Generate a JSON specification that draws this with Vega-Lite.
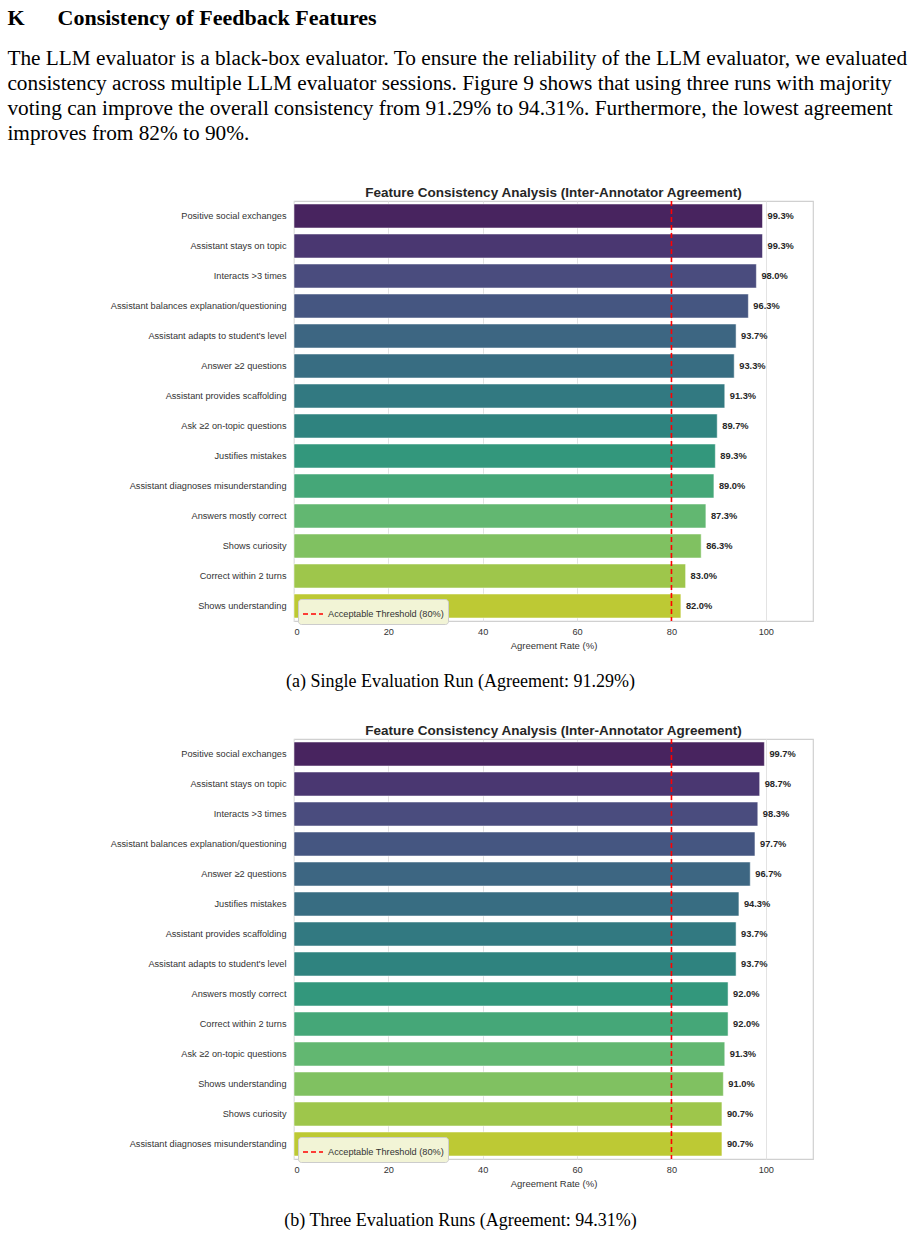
{
  "$schema": "https://vega.github.io/schema/vega-lite/v6.json",
  "padding": {"left": 7, "top": 6, "right": 5, "bottom": 5},
  "background": "white",
  "title": {
    "text": "K\u2003\u2002Consistency of Feedback Features",
    "subtitle": [
      "The LLM evaluator is a black-box evaluator. To ensure the reliability of the LLM evaluator, we evaluated",
      "consistency across multiple LLM evaluator sessions. Figure 9 shows that using three runs with majority",
      "voting can improve the overall consistency from 91.29% to 94.31%. Furthermore, the lowest agreement",
      "improves from 82% to 90%."
    ],
    "anchor": "start",
    "font": "Liberation Serif",
    "fontSize": 22,
    "fontWeight": "bold",
    "color": "#000000",
    "subtitleFont": "Liberation Serif",
    "subtitleFontSize": 21.3,
    "subtitleColor": "#000000",
    "subtitleLineHeight": 25,
    "subtitlePadding": 18,
    "offset": 40
  },
  "resolve": {"scale": {"fill": "independent", "stroke": "independent"}},
  "datasets": {
    "single": [
      {"feature": "Positive social exchanges", "rate": 99.3},
      {"feature": "Assistant stays on topic", "rate": 99.3},
      {"feature": "Interacts >3 times", "rate": 98.0},
      {"feature": "Assistant balances explanation/questioning", "rate": 96.3},
      {"feature": "Assistant adapts to student's level", "rate": 93.7},
      {"feature": "Answer ≥2 questions", "rate": 93.3},
      {"feature": "Assistant provides scaffolding", "rate": 91.3},
      {"feature": "Ask ≥2 on-topic questions", "rate": 89.7},
      {"feature": "Justifies mistakes", "rate": 89.3},
      {"feature": "Assistant diagnoses misunderstanding", "rate": 89.0},
      {"feature": "Answers mostly correct", "rate": 87.3},
      {"feature": "Shows curiosity", "rate": 86.3},
      {"feature": "Correct within 2 turns", "rate": 83.0},
      {"feature": "Shows understanding", "rate": 82.0}
    ],
    "three": [
      {"feature": "Positive social exchanges", "rate": 99.7},
      {"feature": "Assistant stays on topic", "rate": 98.7},
      {"feature": "Interacts >3 times", "rate": 98.3},
      {"feature": "Assistant balances explanation/questioning", "rate": 97.7},
      {"feature": "Answer ≥2 questions", "rate": 96.7},
      {"feature": "Justifies mistakes", "rate": 94.3},
      {"feature": "Assistant provides scaffolding", "rate": 93.7},
      {"feature": "Assistant adapts to student's level", "rate": 93.7},
      {"feature": "Answers mostly correct", "rate": 92.0},
      {"feature": "Correct within 2 turns", "rate": 92.0},
      {"feature": "Ask ≥2 on-topic questions", "rate": 91.3},
      {"feature": "Shows understanding", "rate": 91.0},
      {"feature": "Shows curiosity", "rate": 90.7},
      {"feature": "Assistant diagnoses misunderstanding", "rate": 90.7}
    ]
  },
  "spacing": 31,
  "vconcat": [
    {
      "title": {"text": "(a) Single Evaluation Run (Agreement: 91.29%)", "orient": "bottom", "anchor": "middle", "font": "Liberation Serif", "fontSize": 18, "fontWeight": "normal", "color": "#000000", "offset": 23, "dx": 50},
      "vconcat": [
        {
          "width": 519,
          "height": 420,
          "title": {"text": "Feature Consistency Analysis (Inter-Annotator Agreement)", "font": "Liberation Sans", "fontSize": 13.5, "fontWeight": "bold", "color": "#262626", "anchor": "middle", "offset": 1},
          "data": {"name": "single"},
          "layer": [
            {
              "mark": {"type": "bar", "stroke": "#ffffff", "strokeOpacity": 0.5, "strokeWidth": 1},
              "encoding": {
                "y": {"field": "feature", "type": "nominal", "sort": null, "scale": {"paddingInner": 0.2, "paddingOuter": 0.1}, "axis": {"title": null}},
                "x": {"field": "rate", "type": "quantitative", "scale": {"domain": [0, 110], "nice": false}, "axis": {"values": [0, 20, 40, 60, 80, 100], "title": "Agreement Rate (%)"}},
                "fill": {"field": "feature", "type": "nominal", "sort": null, "legend": null, "scale": {"range": ["#48245f", "#4a3771", "#4a4c7e", "#455681", "#3d6682", "#386d82", "#327981", "#2f837f", "#33977c", "#45a778", "#62b771", "#80c161", "#9ec64b", "#bdc934"]}}
              }
            },
            {
              "mark": {"type": "text", "align": "left", "baseline": "middle", "dx": 5, "fontSize": 9.3, "fontWeight": "bold", "color": "#262626", "text": {"expr": "format(datum.rate, '.1f') + '%'"}},
              "encoding": {
                "y": {"field": "feature", "type": "nominal", "sort": null},
                "x": {"field": "rate", "type": "quantitative"}
              }
            },
            {
              "data": {"values": [{"threshold": 80}]},
              "mark": {"type": "rule", "strokeDash": [5, 3], "strokeWidth": 1.6},
              "encoding": {
                "x": {"field": "threshold", "type": "quantitative"},
                "stroke": {"datum": "Acceptable Threshold (80%)", "type": "nominal", "scale": {"range": ["#ff0000"]}, "legend": {"title": null, "orient": "none", "legendX": 4, "legendY": 398}}
              }
            }
          ]
        }
      ]
    },
    {
      "title": {"text": "(b) Three Evaluation Runs (Agreement: 94.31%)", "orient": "bottom", "anchor": "middle", "font": "Liberation Serif", "fontSize": 18, "fontWeight": "normal", "color": "#000000", "offset": 24, "dx": 50},
      "vconcat": [
        {
          "width": 519,
          "height": 420,
          "title": {"text": "Feature Consistency Analysis (Inter-Annotator Agreement)", "font": "Liberation Sans", "fontSize": 13.5, "fontWeight": "bold", "color": "#262626", "anchor": "middle", "offset": 1},
          "data": {"name": "three"},
          "layer": [
            {
              "mark": {"type": "bar", "stroke": "#ffffff", "strokeOpacity": 0.5, "strokeWidth": 1},
              "encoding": {
                "y": {"field": "feature", "type": "nominal", "sort": null, "scale": {"paddingInner": 0.2, "paddingOuter": 0.1}, "axis": {"title": null}},
                "x": {"field": "rate", "type": "quantitative", "scale": {"domain": [0, 110], "nice": false}, "axis": {"values": [0, 20, 40, 60, 80, 100], "title": "Agreement Rate (%)"}},
                "fill": {"field": "feature", "type": "nominal", "sort": null, "legend": null, "scale": {"range": ["#48245f", "#4a3771", "#4a4c7e", "#455681", "#3d6682", "#386d82", "#327981", "#2f837f", "#33977c", "#45a778", "#62b771", "#80c161", "#9ec64b", "#bdc934"]}}
              }
            },
            {
              "mark": {"type": "text", "align": "left", "baseline": "middle", "dx": 5, "fontSize": 9.3, "fontWeight": "bold", "color": "#262626", "text": {"expr": "format(datum.rate, '.1f') + '%'"}},
              "encoding": {
                "y": {"field": "feature", "type": "nominal", "sort": null},
                "x": {"field": "rate", "type": "quantitative"}
              }
            },
            {
              "data": {"values": [{"threshold": 80}]},
              "mark": {"type": "rule", "strokeDash": [5, 3], "strokeWidth": 1.6},
              "encoding": {
                "x": {"field": "threshold", "type": "quantitative"},
                "stroke": {"datum": "Acceptable Threshold (80%)", "type": "nominal", "scale": {"range": ["#ff0000"]}, "legend": {"title": null, "orient": "none", "legendX": 4, "legendY": 398}}
              }
            }
          ]
        }
      ]
    }
  ],
  "config": {
    "font": "Liberation Sans",
    "view": {"stroke": "#d0d0d0", "strokeWidth": 1.2},
    "axisX": {"grid": true, "gridColor": "#e3e3e3", "gridWidth": 1, "ticks": false, "domain": false, "labelFontSize": 9.2, "labelColor": "#333333", "labelPadding": 6, "titleFontSize": 9.5, "titleFontWeight": "normal", "titleColor": "#333333", "titlePadding": 4},
    "axisY": {"grid": false, "ticks": false, "domain": false, "labelFontSize": 9.2, "labelColor": "#333333", "labelPadding": 8, "labelLimit": 300, "minExtent": 286, "maxExtent": 286},
    "legend": {"fillColor": "#f2f4d6", "strokeColor": "#cccccc", "cornerRadius": 3, "padding": 4, "symbolType": "stroke", "symbolSize": 400, "symbolStrokeWidth": 1.6, "symbolDash": [5, 3], "labelFontSize": 9.2, "labelColor": "#333333", "labelFont": "Liberation Sans"}
  }
}
